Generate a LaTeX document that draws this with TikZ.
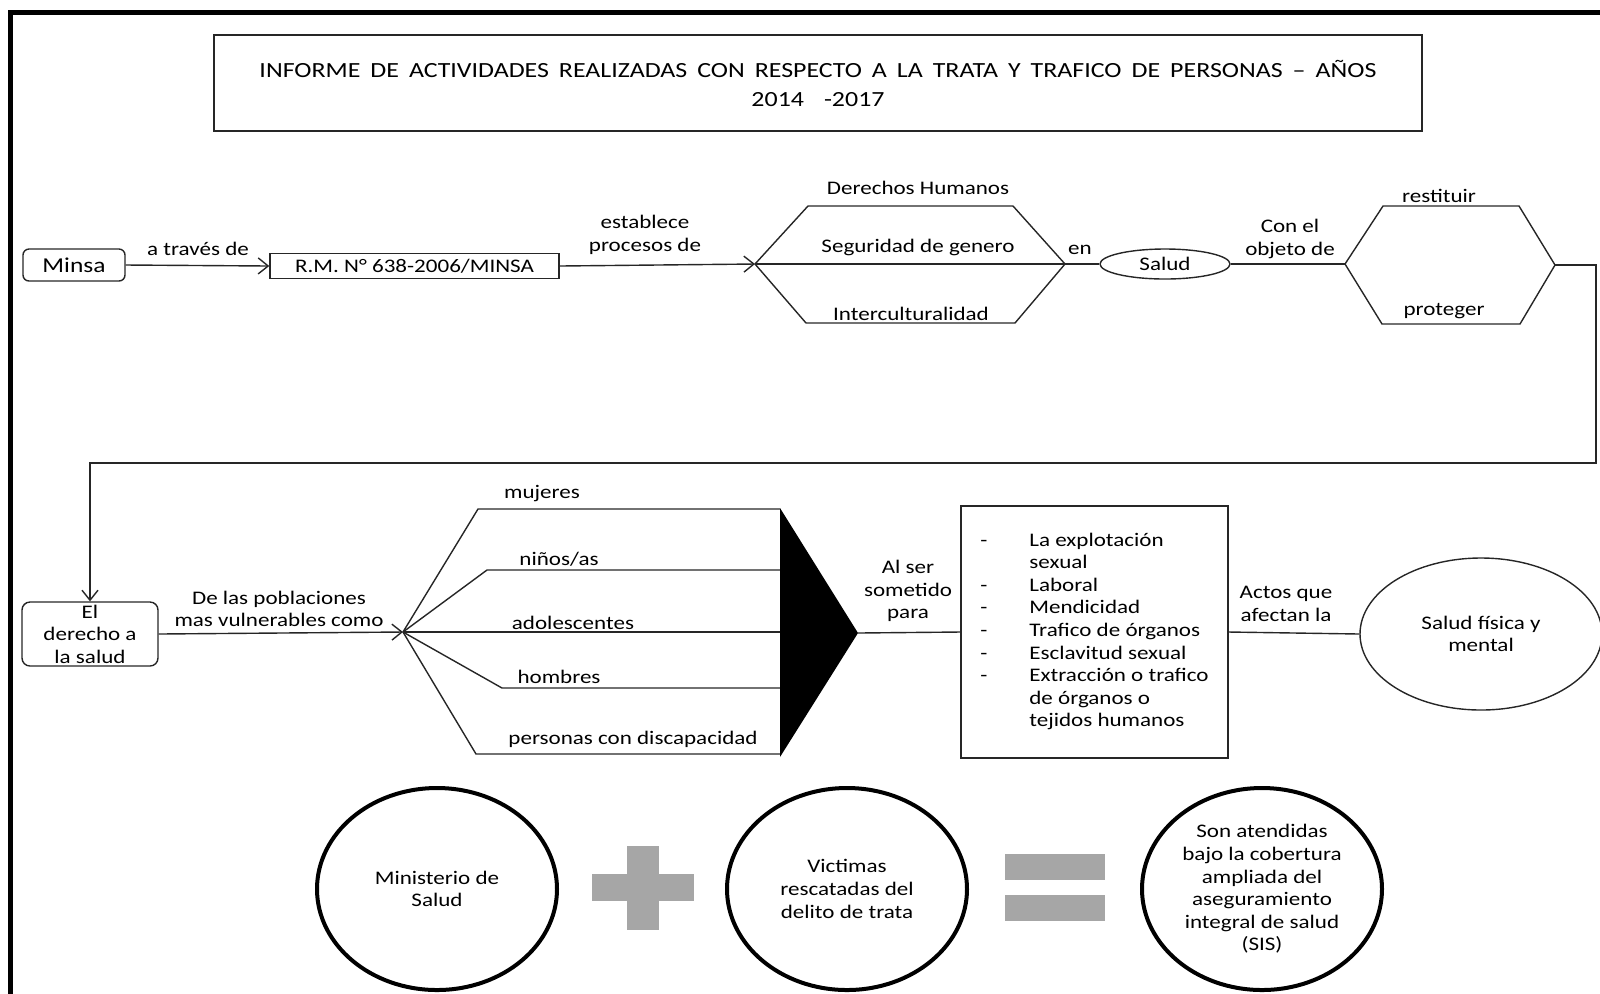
\documentclass[tikz,border=0pt]{standalone}
\usepackage{fontspec}
\setmainfont{Carlito}[FakeStretch=1.2]
\usetikzlibrary{arrows.meta,shapes.geometric}
\definecolor{signgray}{HTML}{A6A6A6}
\newcommand{\titlefont}{\fontsize{10.8}{14.5}\selectfont\spaceskip=5pt plus 1pt\relax}
\tikzset{
  txt/.style={align=center, inner sep=0pt, font=\fontsize{9.6}{11.3}\selectfont},
  conn/.style={line width=0.7pt, draw=black!85},
  arr/.style={conn, -{Straight Barb[length=5pt,width=8pt]}},
  box/.style={draw, conn, txt},
  bigoval/.style={ellipse, draw, line width=2pt, txt, minimum width=120pt, minimum height=101pt}
}
\begin{document}
\begin{tikzpicture}[x=0.5pt, y=-0.5pt]
\useasboundingbox (0,0) rectangle (1600,993);
\draw[line width=2.5pt] (10,1010) -- (10,12) -- (1620,12);

% title
\node[box, minimum width=604pt, minimum height=48pt, font=\titlefont] (title) at (818,83)
  {INFORME DE ACTIVIDADES REALIZADAS CON RESPECTO A LA TRATA Y TRAFICO DE PERSONAS – AÑOS\\2014\ \ -2017};

% first row
\node[box, rounded corners=3pt, minimum width=51pt, minimum height=16pt, font=\fontsize{10.6}{12}\selectfont] (minsa) at (74,265) {Minsa};
\node[box, minimum width=144.5pt, minimum height=12.5pt] (rm) at (414.5,266) {R.M. N° 638-2006/MINSA};
\draw[arr] (minsa.east) -- (rm.west);
\node[txt] (atraves) at (198,249) {a través de};

\coordinate (h1l) at (755,264);
\coordinate (h1r) at (1065,264);
\draw[arr] (rm.east) -- (h1l);
\node[txt] (establece) at (645,235) {establece\\procesos de};
\draw[conn] (h1l) -- (808,206) -- (1013,206) -- (h1r) -- (1015,323) -- (806,323) -- cycle;
\draw[conn] (h1l) -- (h1r);
\node[txt] (ddhh) at (918,188) {Derechos Humanos};
\node[txt] (genero) at (918,247) {Seguridad de genero};
\node[txt] (intercult) at (911,314) {Interculturalidad};

\node[txt] (en) at (1080,250) {en};
\node[ellipse, draw, conn, txt, minimum width=65pt, minimum height=15pt] (salud) at (1165,264) {Salud};
\draw[conn] (h1r) -- (salud.west);
\node[txt] (objeto) at (1290,239) {Con el\\objeto de};

\coordinate (h2l) at (1345,264);
\coordinate (h2r) at (1555,265);
\draw[conn] (salud.east) -- (h2l);
\draw[conn] (h2l) -- (1383,206) -- (1519,206) -- (h2r) -- (1520,324) -- (1382,324) -- cycle;
\node[txt] (restituir) at (1439,196) {restituir};
\node[txt] (proteger) at (1444,311) {proteger};

% second row
\node[box, rounded corners=4pt, minimum width=68pt, minimum height=32pt] (derecho) at (90,634) {El\\derecho a\\la salud};
\coordinate (turn) at (1596,463);
\draw[arr] (h2r) -| (turn) -| (derecho.north);

\coordinate (fan) at (403,632);
\draw[arr] (derecho.east) -- (fan);
\node[txt] (poblaciones) at (279,609) {De las poblaciones\\mas vulnerables como};
\foreach \sx/\sy in {478/509, 487/570, 502/688, 476/754}
  \draw[conn] (fan) -- (\sx,\sy) -- (780,\sy);
\draw[conn] (fan) -- (780,632);
\node[txt] (mujeres) at (542,494) {mujeres};
\node[txt] (ninos) at (559,559) {niños/as};
\node[txt] (adolesc) at (573,623) {adolescentes};
\node[txt] (hombres) at (559,677) {hombres};
\node[txt] (discap) at (633,739) {personas con discapacidad};

\coordinate (tip) at (858,633);
\fill (780,508) -- (tip) -- (780,757) -- cycle;

\node[box, minimum width=133.5pt, minimum height=126pt] (actos) at (1094.5,632) {%
  \begin{tabular}{@{}p{24.5pt}@{}l@{}}
  - & La explotación\\
    & sexual\\
  - & Laboral\\
  - & Mendicidad\\
  - & Trafico de órganos\\
  - & Esclavitud sexual\\
  - & Extracción o trafico\\
    & de órganos o\\
    & tejidos humanos
  \end{tabular}};
\draw[conn] (tip) -- (actos.west);
\node[txt] (sometido) at (908,591) {Al ser\\sometido\\para};

\node[ellipse, draw, conn, txt, minimum width=121pt, minimum height=76pt] (fisica) at (1481,634) {Salud física y\\mental};
\draw[conn] (actos.east) -- (fisica.west);
\node[txt] (afectan) at (1286,604) {Actos que\\afectan la};

% bottom row
\node[bigoval] (ministerio) at (437,889) {Ministerio de\\Salud};
\node[bigoval] (victimas) at (847,889) {Victimas\\rescatadas del\\delito de trata};
\node[bigoval] (sis) at (1262,889) {Son atendidas\\bajo la cobertura\\ampliada del\\aseguramiento\\integral de salud\\(SIS)};
\fill[signgray] (627,846) rectangle (659,930);
\fill[signgray] (592,874) rectangle (694,901);
\fill[signgray] (1005,854) rectangle (1105,880);
\fill[signgray] (1005,895) rectangle (1105,921);
\end{tikzpicture}
\end{document}
